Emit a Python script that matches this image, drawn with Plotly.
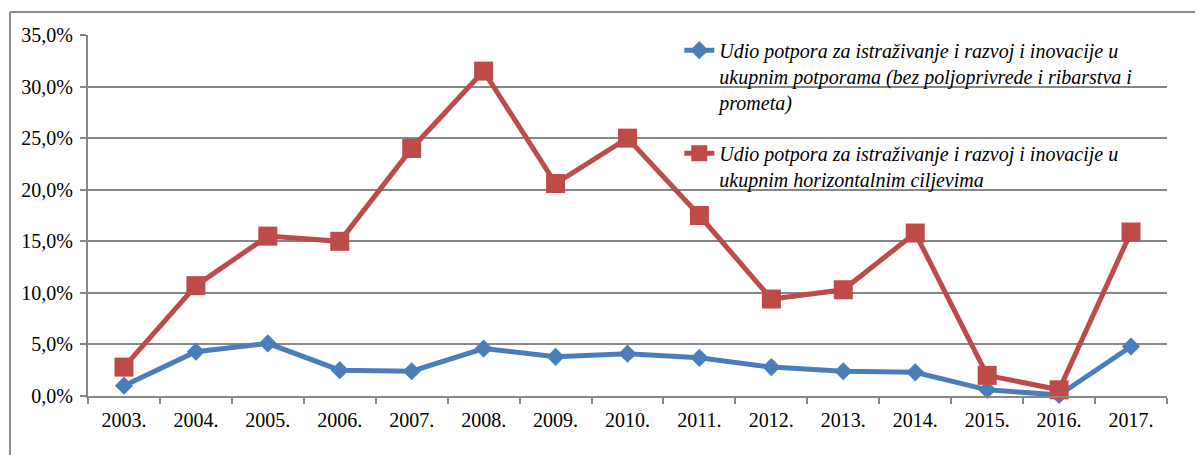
import plotly.graph_objects as go

godine = ["2003.", "2004.", "2005.", "2006.", "2007.", "2008.", "2009.", "2010.",
          "2011.", "2012.", "2013.", "2014.", "2015.", "2016.", "2017."]

# udio u ukupnim potporama (bez poljoprivrede i ribarstva i prometa), %
udio_ukupne = [1.0, 4.3, 5.1, 2.5, 2.4, 4.6, 3.8, 4.1, 3.7, 2.8, 2.4, 2.3, 0.6, 0.1, 4.8]
# udio u ukupnim horizontalnim ciljevima, %
udio_horizontalni = [2.8, 10.7, 15.5, 15.0, 24.0, 31.5, 20.6, 25.0, 17.5, 9.4, 10.3, 15.8, 2.0, 0.6, 15.9]

naziv_1 = ("Udio potpora za istraživanje i razvoj i inovacije u<br>"
           "ukupnim potporama (bez poljoprivrede i ribarstva i<br>prometa)")
naziv_2 = ("Udio potpora za istraživanje i razvoj i inovacije u<br>"
           "ukupnim horizontalnim ciljevima")

FONT = "Liberation Serif"
GRID = "#878787"

fig = go.Figure()
fig.add_trace(go.Scatter(
    x=godine, y=udio_ukupne, name=naziv_1, mode="lines+markers",
    line=dict(color="#4a7ebb", width=5),
    marker=dict(symbol="diamond", size=14, color="#4a7ebb"),
    legendgroup="a", cliponaxis=False,
))
fig.add_trace(go.Scatter(
    x=godine, y=udio_horizontalni, name=naziv_2, mode="lines+markers",
    line=dict(color="#be4b48", width=5),
    marker=dict(symbol="square", size=19, color="#be4b48"),
    legendgroup="b", cliponaxis=False,
))

# stranica ima marginu od 8 px, pa je slika za toliko manja
fig.update_layout(
    width=1195, height=447,
    margin=dict(l=80, r=36, t=27, b=59),
    paper_bgcolor="white", plot_bgcolor="white",
    font=dict(family=FONT, size=20, color="black"),
    separators=",.",
    showlegend=True,
    legend=dict(
        x=0.548, y=1.012, xanchor="left", yanchor="top", valign="top",
        bgcolor="rgba(0,0,0,0)",
        font=dict(family=FONT, size=20, style="italic"),
        tracegroupgap=22, traceorder="grouped",
    ),
    xaxis=dict(
        type="category", tickson="boundaries", showgrid=False,
        range=[-0.5, len(godine) - 0.5],
        showline=True, linecolor=GRID, linewidth=2,
        ticks="outside", ticklen=6, tickwidth=2, tickcolor=GRID,
        ticklabelstandoff=5,
    ),
    yaxis=dict(
        range=[0, 35], dtick=5, tickformat=".1f", ticksuffix="%",
        showgrid=True, gridcolor=GRID, gridwidth=2, zeroline=False,
        showline=True, linecolor=GRID, linewidth=2,
        ticks="outside", ticklen=6, tickwidth=2, tickcolor=GRID,
        ticklabelstandoff=3,
    ),
)

# okvir grafikona (gornji i lijevi rub)
fig.add_shape(type="line", xref="paper", yref="paper",
              x0=(10 - 88) / 1079, x1=(1203 - 88) / 1079,
              y0=(396 - 12) / 361, y1=(396 - 12) / 361,
              line=dict(color="#8c8c8c", width=2))
fig.add_shape(type="line", xref="paper", yref="paper",
              x0=(10 - 88) / 1079, x1=(10 - 88) / 1079,
              y0=(396 - 12) / 361, y1=(396 - 460) / 361,
              line=dict(color="#8c8c8c", width=2))

fig.write_html("out.html")
